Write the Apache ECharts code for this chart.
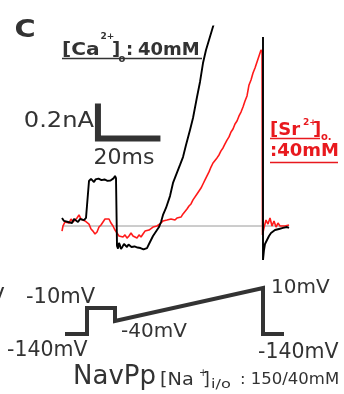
<!DOCTYPE html>
<html><head><meta charset="utf-8">
<script src="https://cdn.jsdelivr.net/npm/echarts@6/dist/echarts.min.js"></script>
<style>html,body{margin:0;padding:0;background:#fff}#c{width:344px;height:394px}</style>
</head><body><div id="c"></div>
<script>
// Current traces: [time (ms), current (nA, upward positive as drawn)]
const blackTrace = [
  [0,0.046],[0.64,0.029],[1.28,0.04],[1.92,0.023],[2.56,0.034],[3.2,0.017],[3.84,0.04],[4.48,0.029],[5.12,0.023],[5.76,0.04],[6.4,0.029],[7.04,0.034],[7.68,0.046],[8.32,0.04],
  [8.64,0.257],[9.28,0.269],[9.76,0.26],[10.24,0.251],[10.72,0.266],[11.2,0.263],[11.68,0.271],[12.16,0.274],[12.64,0.262],[13.12,0.257],[13.6,0.266],[14.08,0.269],[14.56,0.258],[15.04,0.251],[15.52,0.26],[16.0,0.263],[16.48,0.272],[16.96,0.286],[17.28,0.274],
  [17.6,-0.114],[17.92,-0.129],[18.24,-0.097],[18.56,-0.111],[18.88,-0.131],[19.36,-0.118],[19.84,-0.103],[20.32,-0.114],[20.8,-0.12],[21.28,-0.106],[21.76,-0.109],[22.24,-0.12],[22.72,-0.126],[23.2,-0.117],[23.68,-0.114],[24.16,-0.123],[24.64,-0.131],[25.12,-0.126],[25.6,-0.12],[26.08,-0.134],[26.56,-0.143],[27.2,-0.126],[27.84,-0.103],[28.48,-0.08],[29.12,-0.057],[29.76,-0.04],[30.4,-0.029],[31.04,-0.006],[31.68,0.023],[32.32,0.063],[33.28,0.103],[34.56,0.171],[35.52,0.246],[36.48,0.291],[37.76,0.349],[38.72,0.394],[39.68,0.463],[40.96,0.549],[41.92,0.617],[43.2,0.737],[44.16,0.823],[45.12,0.931],[46.08,1.006],[47.04,1.063],[48.0,1.12],[48.96,1.177],
  [56,'-'],
  [64.32,1.08],[64.32,-0.194],[64.64,-0.137],[64.96,-0.103],[65.6,-0.08],[66.24,-0.057],[66.88,-0.04],[67.52,-0.034],[68.16,-0.023],[68.8,-0.029],[69.44,-0.017],[70.08,-0.023],[70.72,-0.011],[71.36,-0.017],[72.0,-0.006],[72.64,-0.011]
];
const redTrace = [
  [0,-0.029],[0.32,0],[0.96,0.023],[1.6,0.034],[2.24,0.017],[2.88,0.04],[3.52,0.023],[4.16,0.034],[4.8,0.046],[5.44,0.063],[6.08,0.04],[6.72,0.051],[7.36,0.029],[8.0,0.034],[8.64,0.011],
  [9.28,-0.017],[9.92,-0.029],[10.56,-0.046],[11.2,-0.034],[11.84,-0.006],[12.48,0.006],[13.12,0.023],[13.76,0.04],[14.4,0.051],[15.04,0.04],[15.68,0.017],[16.32,0],[16.96,-0.023],
  [17.6,-0.04],[18.24,-0.057],[18.88,-0.046],[19.52,-0.063],[20.16,-0.051],[20.8,-0.069],[21.44,-0.057],[22.08,-0.04],[22.72,-0.057],[23.36,-0.046],[24.0,-0.069],[24.64,-0.051],[25.28,-0.063],[25.92,-0.046],[26.56,-0.029],[27.2,-0.04],[27.84,-0.023],[28.48,-0.017],[29.12,-0.006],[29.76,-0.011],[30.4,0],
  [31.04,0.011],[31.68,0.017],[32.32,0.029],[32.96,0.023],[33.6,0.034],[34.24,0.023],[34.88,0.04],[35.52,0.029],[36.16,0.034],[36.8,0.046],[37.44,0.04],[38.08,0.051],[38.72,0.069],[39.36,0.08],[40.0,0.097],[40.64,0.114],[41.28,0.126],[41.92,0.149],[42.56,0.16],[43.2,0.183],[43.84,0.194],[44.48,0.217],[45.12,0.24],[45.76,0.263],[46.4,0.286],[47.04,0.309],[47.68,0.337],[48.32,0.36],[48.96,0.371],[49.6,0.389],[50.24,0.406],[50.88,0.429],[51.52,0.446],[52.16,0.469],[52.8,0.491],[53.44,0.509],[54.08,0.537],[54.72,0.554],[55.36,0.583],[56.0,0.6],[56.64,0.629],[57.28,0.651],[57.92,0.68],[58.56,0.714],[59.2,0.743],[59.84,0.806],[60.48,0.834],[61.12,0.874],[61.76,0.903],[62.4,0.937],[63.04,0.971],[63.68,1.006],[64.0,0.994],
  [64.16,-0.051],[64.64,-0.011],[65.28,0.034],[65.92,0.011],[66.56,0.046],[67.2,0],[67.84,0.029],[68.48,-0.006],[69.12,0.017],[69.76,0],[70.4,0.011],[71.36,0],[72.64,0.006]
];
const baselineTimes = [0, 72.64];
// scale bar: 20 ms x 0.2 nA
const scaleBarTimes = [11.5, 11.5, 31.5];
const scaleBarCurrents = [0.7, 0.5, 0.5];
// voltage protocol (schematic heights as drawn; labels in mV)
const protocolTimes = [0.96, 8.0, 8.0, 16.96, 16.96, 64.32, 64.32, 71.04];
const protocolLevels = [0, 0, 26, 26, 13, 46, 0, 0];
const protocolLabels = ['-10mV', '-140mV', '-40mV', '10mV', '-140mV'];

const DARK = '#333333', RED = '#e8191e';
const FONT = '"DejaVu Sans"';
function txt(text, x, y, size, o) {
  o = o || {};
  return {
    type: 'text', x: x, y: y, scaleX: o.sx || 1, z: 10,
    style: {
      text: text, fill: o.fill || DARK,
      font: (o.bold ? 'bold ' : '') + size + 'px ' + FONT,
      textAlign: o.align || 'left', align: o.align || 'left',
      textVerticalAlign: 'middle', verticalAlign: 'middle'
    }
  };
}
function uline(x1, x2, y, color) {
  return { type: 'line', z: 10, shape: { x1: x1, y1: y, x2: x2, y2: y }, style: { stroke: color, lineWidth: 1.5 } };
}

const chart = echarts.init(document.getElementById('c'), null, { renderer: 'canvas' });
const PX_MS = 3.125, PX_NA = 175, XMAX = 72.64, YMIN = -0.2, YMAX = 1.14, ZERO_Y = 226;
chart.setOption({
  animation: false,
  backgroundColor: '#fff',
  grid: [
    { left: 62, width: XMAX * PX_MS, top: ZERO_Y - YMAX * PX_NA, height: (YMAX - YMIN) * PX_NA },
    { left: 62, width: XMAX * PX_MS, top: 288, height: 46 }
  ],
  xAxis: [
    { type: 'value', gridIndex: 0, min: 0, max: XMAX, show: false },
    { type: 'value', gridIndex: 1, min: 0, max: XMAX, show: false }
  ],
  yAxis: [
    { type: 'value', gridIndex: 0, min: YMIN, max: YMAX, show: false },
    { type: 'value', gridIndex: 1, min: 0, max: 46, show: false }
  ],
  series: [
    { type: 'line', xAxisIndex: 0, yAxisIndex: 0, showSymbol: false, silent: true, z: 1,
      data: baselineTimes.map(t => [t, 0]), lineStyle: { color: '#9a9a9a', width: 1 } },
    { type: 'line', xAxisIndex: 0, yAxisIndex: 0, showSymbol: false, silent: true, z: 2,
      data: redTrace, lineStyle: { color: '#ff1a1a', width: 1.6 } },
    { type: 'line', xAxisIndex: 0, yAxisIndex: 0, showSymbol: false, silent: true, z: 3, connectNulls: false,
      data: blackTrace, lineStyle: { color: '#000', width: 1.9 } },
    { type: 'line', xAxisIndex: 0, yAxisIndex: 0, showSymbol: false, silent: true, z: 4, clip: false,
      data: scaleBarTimes.map((t, i) => [t, scaleBarCurrents[i]]),
      lineStyle: { color: DARK, width: 6, cap: 'butt', join: 'miter' } },
    { type: 'line', xAxisIndex: 1, yAxisIndex: 1, showSymbol: false, silent: true, clip: false,
      data: protocolTimes.map((t, i) => [t, protocolLevels[i]]),
      lineStyle: { color: DARK, width: 4, cap: 'butt', join: 'miter' } }
  ],
  graphic: [
    txt('C', 25, 30.5, 24, { bold: true, align: 'center', sx: 1.2 }),
    txt('[Ca', 62, 50.5, 18, { bold: true, sx: 1.12 }),
    txt('2+', 100.5, 37, 9, { bold: true }),
    txt(']', 112, 50.5, 18, { bold: true }),
    txt('o', 118.5, 59.5, 10, { bold: true }),
    txt(':', 126, 50.5, 18, { bold: true }),
    txt('40mM', 138, 50.5, 18, { bold: true }),
    uline(62, 202, 58.5, DARK),
    txt('[Sr', 270, 130.5, 18, { bold: true, fill: RED }),
    txt('2+', 303, 123, 9, { bold: true, fill: RED }),
    txt(']', 313, 130.5, 18, { bold: true, fill: RED }),
    txt('o.', 321, 137, 10, { bold: true, fill: RED }),
    uline(270, 320, 138.5, RED),
    txt(':40mM', 270, 151, 18, { bold: true, fill: RED }),
    uline(270, 338, 162.5, RED),
    txt('0.2nA', 94, 121.5, 21, { align: 'right', sx: 1.15 }),
    txt('20ms', 124, 158.5, 22, { align: 'center' }),
    txt('V', -10, 298, 21),
    txt(protocolLabels[0], 26, 298, 21),
    txt(protocolLabels[1], 7, 350.5, 20.5),
    txt(protocolLabels[2], 121, 332, 20),
    txt(protocolLabels[3], 271, 287.5, 20),
    txt(protocolLabels[4], 258, 352.5, 20.5),
    txt('NavPp', 73, 377.5, 26),
    txt('[Na', 160, 380.5, 17.5, { sx: 1.1 }),
    txt('+', 199, 373, 10),
    txt(']', 203, 380.5, 17.5),
    txt('i/o', 211, 385, 12, { sx: 1.35 }),
    txt(': 150/40mM', 240, 380, 16.5)
  ]
});
</script></body></html>
